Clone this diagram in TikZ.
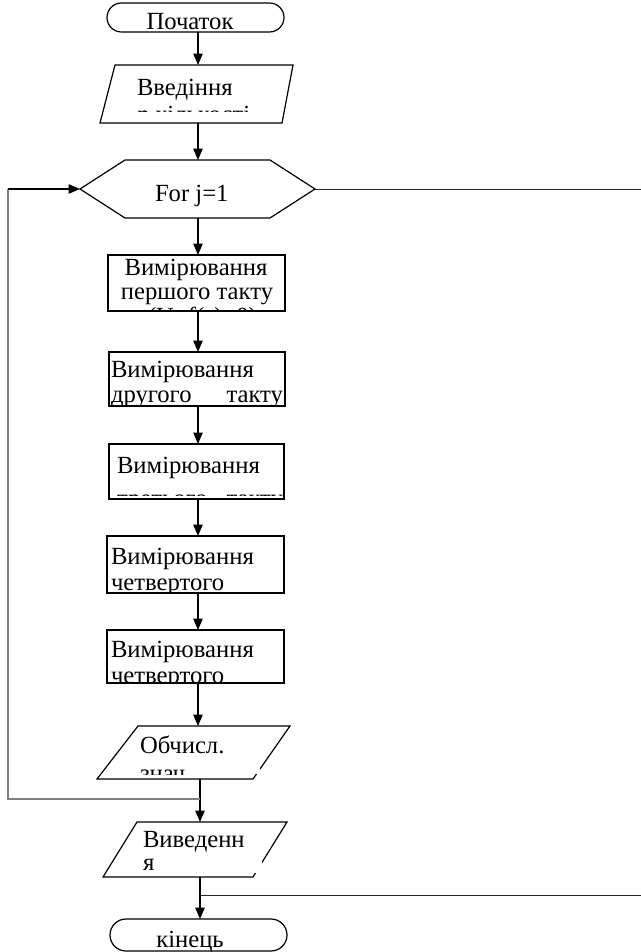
\documentclass[tikz,border=0pt]{standalone}
\usepackage{fontspec}
\setmainfont{Liberation Serif}
\usetikzlibrary{shapes.misc,arrows.meta}
\begin{document}
\begin{tikzpicture}[x=0.75pt,y=-0.75pt,
  frame/.style={draw=none,inner sep=0pt,outer sep=0pt,rectangle},
  box/.style={draw=black,line width=0.9pt,inner sep=0pt,outer sep=0pt,rectangle},
  term/.style={draw=black,line width=0.9pt,rounded rectangle,inner sep=0pt,outer sep=0pt},
  outline/.style={draw=black,line width=0.9pt,line join=miter},
  txt/.style={inner sep=0pt,outer sep=0pt,font=\fontsize{18.5}{18.5}\selectfont,anchor=base west},
  ctxt/.style={txt,anchor=base},
  rtxt/.style={txt,anchor=base east},
  arr/.style={line width=0.9pt,-{Triangle[length=8.5pt,width=7pt]}},
  back/.style={draw=black!50,line width=0.9pt},
  exitline/.style={draw=black!85,line width=0.7pt},
  mask/.style={fill=white,draw=none}
]
\useasboundingbox (0,0) rectangle (641,952);
\clip (0,0) rectangle (641,952);

% ---------- shapes ----------
\node[term,minimum width=177*0.75pt,minimum height=29*0.75pt] (start) at (195.5,17.5) {};
\node[frame,minimum width=193*0.75pt,minimum height=58*0.75pt] (in1) at (196.5,94) {};
\draw[outline] ([xshift=15*0.75pt]in1.north west) -- (in1.north east)
  -- ([xshift=-11*0.75pt]in1.south east) -- (in1.south west) -- cycle;
\node[frame,minimum width=235*0.75pt,minimum height=58*0.75pt] (loop) at (197.5,189) {};
\draw[outline] (loop.west) -- ([xshift=45*0.75pt]loop.north west) -- ([xshift=-45*0.75pt]loop.north east)
  -- (loop.east) -- ([xshift=-45*0.75pt]loop.south east) -- ([xshift=45*0.75pt]loop.south west) -- cycle;
\node[box,minimum width=177*0.75pt,minimum height=56*0.75pt] (m1) at (196.5,283) {};
\node[box,minimum width=176*0.75pt,minimum height=54*0.75pt] (m2) at (197,379) {};
\node[box,minimum width=175*0.75pt,minimum height=55*0.75pt] (m3) at (196.5,471.5) {};
\node[box,minimum width=177*0.75pt,minimum height=57*0.75pt] (m4) at (195.5,564.5) {};
\node[box,minimum width=177*0.75pt,minimum height=53*0.75pt] (m5) at (195.5,656.5) {};
\node[frame,minimum width=193*0.75pt,minimum height=53*0.75pt] (calc) at (193.5,752.5) {};
\draw[outline] ([xshift=41*0.75pt]calc.north west) -- (calc.north east)
  -- ([xshift=-37*0.75pt]calc.south east) -- (calc.south west) -- cycle;
\node[frame,minimum width=184*0.75pt,minimum height=55*0.75pt] (out) at (195,849.5) {};
\draw[outline] ([xshift=34*0.75pt]out.north west) -- (out.north east)
  -- ([xshift=-34*0.75pt]out.south east) -- (out.south west) -- cycle;
\node[term,minimum width=177*0.75pt,minimum height=32*0.75pt] (end) at (198.5,935) {};

% ---------- texts ----------
\node[ctxt] (tstart) at (190,30) {Початок};
\begin{scope}
  \clip (105,70) rectangle (285,112);
  \node[txt] (tin1a) at (137,96) {Введіння};
  \node[txt] (tin1b) at (137,123) {n кількості};
\end{scope}
\node[txt] (tloop) at (155,202) {For j=1};
\begin{scope}
  \clip (108,255) rectangle (285,311);
  \node[ctxt] (tm1a) at (196,275) {Вимірювання};
  \node[ctxt] (tm1b) at (197,299) {першого такту};
  \node[txt] (tm1c) at (148,324) {(U=f(τ)=0)};
\end{scope}
\begin{scope}
  \clip (109,352) rectangle (285,404);
  \node[txt] (tm2a) at (111,377) {Вимірювання};
  \node[txt] (tm2b) at (111,402) {другого};
  \node[rtxt] (tm2c) at (283,402) {такту};
\end{scope}
\begin{scope}
  \clip (109,444) rectangle (284,495);
  \node[txt] (tm3a) at (117,473) {Вимірювання};
  \node[txt] (tm3b) at (117,506) {третього};
  \node[rtxt] (tm3c) at (283,506) {такту};
\end{scope}
\begin{scope}
  \clip (107,536) rectangle (284,592);
  \node[txt] (tm4a) at (111,564) {Вимірювання};
  \node[txt] (tm4b) at (111,590) {четвертого};
\end{scope}
\begin{scope}
  \clip (107,630) rectangle (284,682);
  \node[txt] (tm5a) at (111,657) {Вимірювання};
  \node[txt] (tm5b) at (111,683) {четвертого};
\end{scope}
\fill[mask] (135,732) rectangle (260,774);
\begin{scope}
  \clip (135,732) rectangle (260,774);
  \node[txt] (tcalca) at (140,753) {Обчисл.};
  \node[txt] (tcalcb) at (140,781) {знач.};
\end{scope}
\fill[mask] (140,830) rectangle (262,873);
\begin{scope}
  \clip (140,830) rectangle (262,873);
  \node[txt] (touta) at (143,847) {Виведенн};
  \node[txt] (toutb) at (143,870) {я};
\end{scope}
\node[ctxt] (tend) at (190,947) {кінець};

% ---------- connectors ----------
\coordinate (spA) at (198,0);
\coordinate (spB) at (200,0);
\draw[arr] (start.south -| spA) -- (in1.north -| spA);
\draw[arr] (in1.south -| spA) -- (loop.north -| spA);
\draw[arr] (loop.south -| spA) -- (m1.north -| spA);
\draw[arr] (m1.south -| spA) -- (m2.north -| spA);
\draw[arr] (m2.south -| spA) -- (m3.north -| spA);
\draw[arr] (m3.south -| spA) -- (m4.north -| spA);
\draw[arr] (m4.south -| spA) -- (m5.north -| spA);
\draw[arr] (m5.south -| spA) -- (calc.north -| spA);
\draw[arr] (calc.south -| spB) -- (out.north -| spB);
\draw[arr] (out.south -| spB) -- (end.north -| spB);

% loop back
\coordinate (j1) at (200,799);
\coordinate (lb) at (8,799);
\coordinate (lt) at (8,189);
\draw[back] (j1) -- (lb) -- (lt);
\draw[arr] (lt) -- (loop.west);

% exits to the right
\coordinate (ex1) at (641,189);
\draw[exitline] (loop.east) -- (ex1);
\coordinate (j2) at (200,895);
\coordinate (ex2) at (641,895);
\draw[exitline] (j2) -- (ex2);
\end{tikzpicture}
\end{document}
